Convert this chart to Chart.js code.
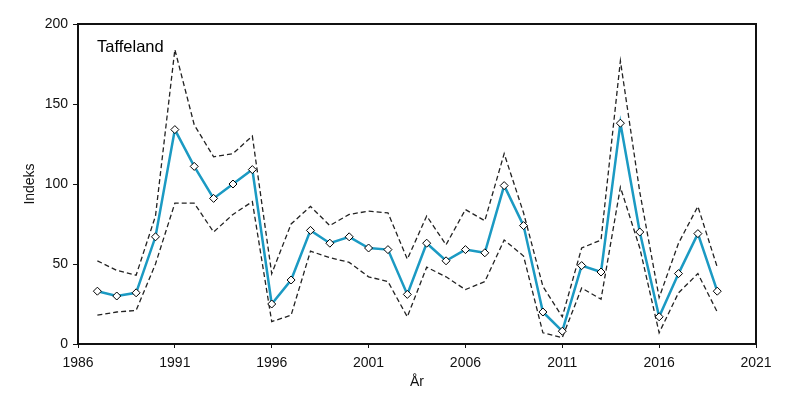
<!DOCTYPE html>
<html>
<head>
<meta charset="utf-8">
<script src="https://cdn.jsdelivr.net/npm/chart.js@4"></script>
<style>
  html, body { margin: 0; padding: 0; background: #fff; }
  #wrap { width: 800px; height: 393px; }
</style>
</head>
<body>
<div id="wrap"><canvas id="chart"></canvas></div>
<script>
const years = [1987, 1988, 1989, 1990, 1991, 1992, 1993, 1994, 1995, 1996, 1997, 1998, 1999, 2000, 2001, 2002, 2003,
  2004, 2005, 2006, 2007, 2008, 2009, 2010, 2011, 2012, 2013, 2014, 2015, 2016, 2017, 2018, 2019];
const indeks = [33, 30, 32, 67, 134, 111, 91, 100, 109, 25, 40, 71, 63, 67, 60, 59, 31,
  63, 52, 59, 57, 99, 74, 20, 8, 49, 45, 138, 70, 17, 44, 69, 33];
const upper = [52, 46, 43, 80, 184, 137, 117, 119, 130, 44, 75, 86, 74, 81, 83, 82, 53,
  80, 62, 84, 77, 119, 82, 36, 17, 60, 65, 177, 95, 29, 63, 86, 48];
const lower = [18, 20, 21, 50, 88, 88, 70, 81, 89, 14, 18, 58, 54, 51, 42, 39, 17,
  48, 42, 34, 39, 65, 55, 7, 4, 35, 28, 98, 60, 7, 32, 44, 20];
const xTicks = [1986, 1991, 1996, 2001, 2006, 2011, 2016, 2021];
const yTicks = [0, 50, 100, 150, 200];

const FONT = "'Liberation Sans', Arial, sans-serif";

function pts(vals) {
  return years.map((y, i) => ({ x: y, y: vals[i] }));
}

const framePlugin = {
  id: "frame",
  afterDatasetsDraw(chart) {
    const { ctx, chartArea: a } = chart;
    ctx.save();
    ctx.strokeStyle = "#111";
    ctx.lineWidth = 2;
    ctx.strokeRect(a.left, a.top, a.right - a.left, a.bottom - a.top);
    ctx.fillStyle = "#000";
    ctx.font = "16.5px " + FONT;
    ctx.textBaseline = "middle";
    ctx.fillText("Taffeland", a.left + 19, 47);
    ctx.restore();
  },
};

const dashed = {
  borderColor: "#222",
  borderWidth: 1.3,
  borderDash: [5, 3],
  pointRadius: 0,
  fill: false,
  tension: 0,
};

new Chart(document.getElementById("chart"), {
  type: "line",
  data: {
    datasets: [
      {
        label: "Indeks",
        data: pts(indeks),
        borderColor: "#1b9ac3",
        borderWidth: 2.5,
        pointStyle: "rectRot",
        pointRadius: 4,
        pointBackgroundColor: "#fff",
        pointBorderColor: "#000",
        pointBorderWidth: 1,
        tension: 0,
      },
      Object.assign({ label: "Øvre", data: pts(upper) }, dashed),
      Object.assign({ label: "Nedre", data: pts(lower) }, dashed),
    ],
  },
  options: {
    responsive: true,
    maintainAspectRatio: false,
    animation: false,
    layout: { padding: { left: 0, right: 44, top: 24, bottom: 0 } },
    plugins: { legend: { display: false }, tooltip: { enabled: false } },
    scales: {
      x: {
        type: "linear",
        min: 1986,
        max: 2021,
        afterBuildTicks: (axis) => { axis.ticks = xTicks.map((v) => ({ value: v })); },
        afterFit: (axis) => { axis.height = 49; },
        ticks: {
          color: "#111",
          font: { family: FONT, size: 14 },
          padding: 7,
          maxRotation: 0,
          callback: (v) => String(v),
        },
        grid: { display: true, drawOnChartArea: false, drawTicks: true, tickLength: 4, color: "#111" },
        border: { color: "#111", width: 2 },
        title: {
          display: true,
          text: "År",
          color: "#111",
          font: { family: FONT, size: 14 },
          padding: { top: 0, bottom: 2 },
        },
      },
      y: {
        min: 0,
        max: 200,
        afterBuildTicks: (axis) => { axis.ticks = yTicks.map((v) => ({ value: v })); },
        afterFit: (axis) => { axis.width = 78; },
        ticks: {
          color: "#111",
          font: { family: FONT, size: 14 },
          padding: 5,
        },
        grid: { display: true, drawOnChartArea: false, drawTicks: true, tickLength: 5, color: "#111" },
        border: { color: "#111", width: 2 },
        title: {
          display: true,
          text: "Indeks",
          color: "#111",
          font: { family: FONT, size: 14 },
          padding: { top: 22, bottom: 0 },
        },
      },
    },
  },
  plugins: [framePlugin],
});
</script>
</body>
</html>
